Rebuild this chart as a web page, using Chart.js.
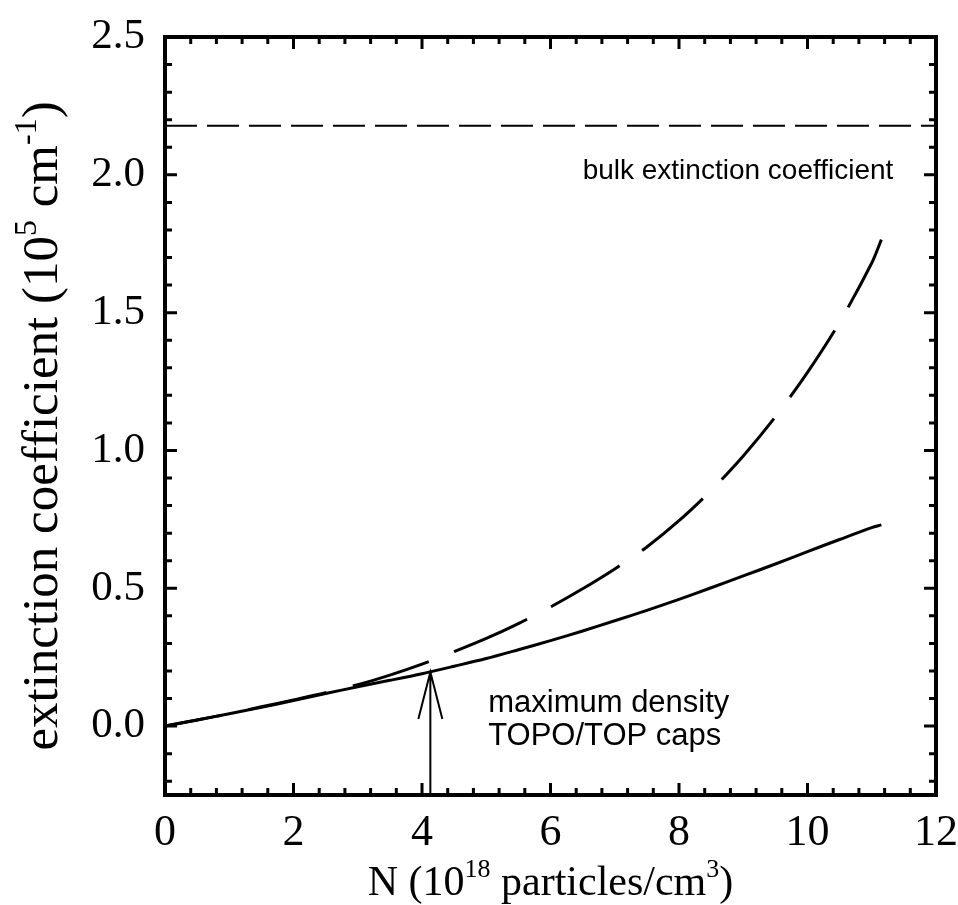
<!DOCTYPE html>
<html>
<head>
<meta charset="utf-8">
<script src="https://cdn.jsdelivr.net/npm/chart.js@4"></script>
<style>
  body { margin: 0; background: #fff; }
  #wrap { width: 958px; height: 905px; }
</style>
</head>
<body>
<div id="wrap"><canvas id="extChart" width="958" height="905"></canvas></div>
<script>
// N in 10^18 particles/cm^3
var nValues = [0, 0.5, 1, 1.5, 2, 2.5, 3, 3.5, 4, 4.5, 5, 5.5, 6, 6.5, 7, 7.5, 8, 8.5, 9, 9.5, 10, 10.5, 11, 11.15];
// extinction coefficient, 10^5 cm^-1
var solidK = [0, 0.022, 0.045, 0.068, 0.093, 0.118, 0.143, 0.166, 0.19, 0.217, 0.245, 0.277, 0.31, 0.345, 0.382, 0.42, 0.46, 0.502, 0.545, 0.588, 0.633, 0.677, 0.72, 0.73];
var dashedK = [0, 0.022, 0.045, 0.07, 0.095, 0.121, 0.15, 0.185, 0.225, 0.27, 0.318, 0.372, 0.432, 0.498, 0.57, 0.65, 0.745, 0.855, 0.98, 1.122, 1.283, 1.465, 1.68, 1.765];
var bulkN = [0, 12];
var bulkK = [2.178, 2.178];
var xTickValues = [0, 2, 4, 6, 8, 10, 12];
var yTickValues = [0, 0.5, 1, 1.5, 2, 2.5];
var arrowN = 4.13;
var arrowTipK = 0.196;

function pts(xs, ys) {
  return xs.map(function (x, i) { return { x: x, y: ys[i] }; });
}

// draw text with superscript pieces, anchored at its centre
function drawRich(ctx, parts, cx, baseY, size, family) {
  var supSize = Math.round(size * 0.62);
  var total = 0;
  parts.forEach(function (p) {
    ctx.font = (p.sup ? supSize : size) + 'px ' + family;
    p.w = ctx.measureText(p.t).width;
    total += p.w;
  });
  var x = cx - total / 2;
  ctx.textAlign = 'left';
  ctx.textBaseline = 'alphabetic';
  parts.forEach(function (p) {
    ctx.font = (p.sup ? supSize : size) + 'px ' + family;
    ctx.fillText(p.t, x, p.sup ? baseY - size * 0.42 : baseY);
    x += p.w;
  });
}

var framePlugin = {
  id: 'frame',
  afterDatasetsDraw: function (chart) {
    var ctx = chart.ctx;
    var a = chart.chartArea;
    var xs = chart.scales.x, ys = chart.scales.y;
    ctx.save();
    ctx.strokeStyle = '#000';
    ctx.fillStyle = '#000';

    // inner ticks on all four sides
    ctx.lineWidth = 3;
    ctx.beginPath();
    for (var i = -2; i <= 24; i++) {
      var py = ys.getPixelForValue(i / 10);
      var len = (i % 5 === 0) ? 12 : 7;
      ctx.moveTo(a.left, py); ctx.lineTo(a.left + len, py);
      ctx.moveTo(a.right, py); ctx.lineTo(a.right - len, py);
    }
    for (var j = 1; j <= 29; j++) {
      var px = xs.getPixelForValue(j * 0.4);
      var l2 = (j % 5 === 0) ? 12 : 7;
      ctx.moveTo(px, a.bottom); ctx.lineTo(px, a.bottom - l2);
      ctx.moveTo(px, a.top); ctx.lineTo(px, a.top + l2);
    }
    ctx.stroke();

    // frame
    ctx.lineWidth = 4;
    ctx.strokeRect(a.left, a.top, a.right - a.left, a.bottom - a.top);

    // arrow to maximum density
    var ax = xs.getPixelForValue(arrowN);
    var tipY = ys.getPixelForValue(arrowTipK);
    ctx.lineWidth = 2;
    ctx.beginPath();
    ctx.moveTo(ax, a.bottom);
    ctx.lineTo(ax, tipY);
    ctx.moveTo(ax - 12, tipY + 47);
    ctx.lineTo(ax, tipY);
    ctx.lineTo(ax + 12, tipY + 47);
    ctx.stroke();

    // annotations
    var sans = '"Liberation Sans", Arial, sans-serif';
    ctx.textAlign = 'left';
    ctx.textBaseline = 'alphabetic';
    ctx.font = '28px ' + sans;
    ctx.fillText('bulk extinction coefficient', xs.getPixelForValue(6.5), ys.getPixelForValue(1.985));
    ctx.font = '31px ' + sans;
    ctx.fillText('maximum density', xs.getPixelForValue(5.03), ys.getPixelForValue(0.05));
    ctx.fillText('TOPO/TOP caps', xs.getPixelForValue(5.03), ys.getPixelForValue(-0.068));

    // axis titles
    var serif = '"Liberation Serif", "Times New Roman", serif';
    drawRich(ctx, [
      { t: 'N (10' }, { t: '18', sup: true }, { t: ' particles/cm' }, { t: '3', sup: true }, { t: ')' }
    ], (a.left + a.right) / 2, 895, 42, serif);

    ctx.translate(57, (a.top + a.bottom) / 2 + 10);
    ctx.rotate(-Math.PI / 2);
    drawRich(ctx, [
      { t: 'extinction coefficient (10' }, { t: '5', sup: true }, { t: ' cm' }, { t: '-1', sup: true }, { t: ')' }
    ], 0, 0, 51, serif);
    ctx.restore();
  }
};

var ctx = document.getElementById('extChart').getContext('2d');
var extChart = new Chart(ctx, {
  type: 'line',
  data: {
    datasets: [{
      label: 'solid',
      data: pts(nValues, solidK),
      borderColor: '#000',
      borderWidth: 3,
      pointRadius: 0,
      tension: 0.3,
      fill: false
    }, {
      label: 'dashed',
      data: pts(nValues, dashedK),
      borderColor: '#000',
      borderWidth: 3,
      borderDash: [80, 27],
      borderDashOffset: 22,
      pointRadius: 0,
      tension: 0.3,
      fill: false
    }, {
      label: 'bulk',
      data: pts(bulkN, bulkK),
      borderColor: '#000',
      borderWidth: 2,
      borderDash: [32, 10],
      pointRadius: 0,
      fill: false
    }]
  },
  options: {
    responsive: false,
    animation: false,
    layout: { padding: { top: 37, right: 22, left: 0, bottom: 0 } },
    plugins: {
      legend: { display: false },
      tooltip: { enabled: false }
    },
    scales: {
      x: {
        type: 'linear',
        min: 0,
        max: 12,
        grid: { display: false, drawTicks: false },
        border: { display: false },
        afterBuildTicks: function (s) { s.ticks = xTickValues.map(function (v) { return { value: v }; }); },
        afterFit: function (s) { s.height = 110; s.paddingLeft = 0; s.paddingRight = 0; },
        ticks: {
          color: '#000',
          padding: 12,
          maxRotation: 0,
          font: { family: '"Liberation Serif", "Times New Roman", serif', size: 44 },
          callback: function (v) { return String(v); }
        }
      },
      y: {
        type: 'linear',
        min: -0.25,
        max: 2.5,
        grid: { display: false, drawTicks: false },
        border: { display: false },
        afterBuildTicks: function (s) { s.ticks = yTickValues.map(function (v) { return { value: v }; }); },
        afterFit: function (s) { s.width = 165; s.paddingTop = 0; s.paddingBottom = 0; },
        ticks: {
          color: '#000',
          padding: 20,
          font: { family: '"Liberation Serif", "Times New Roman", serif', size: 43 },
          callback: function (v) { return v.toFixed(1); }
        }
      }
    }
  },
  plugins: [framePlugin]
});
</script>
</body>
</html>
